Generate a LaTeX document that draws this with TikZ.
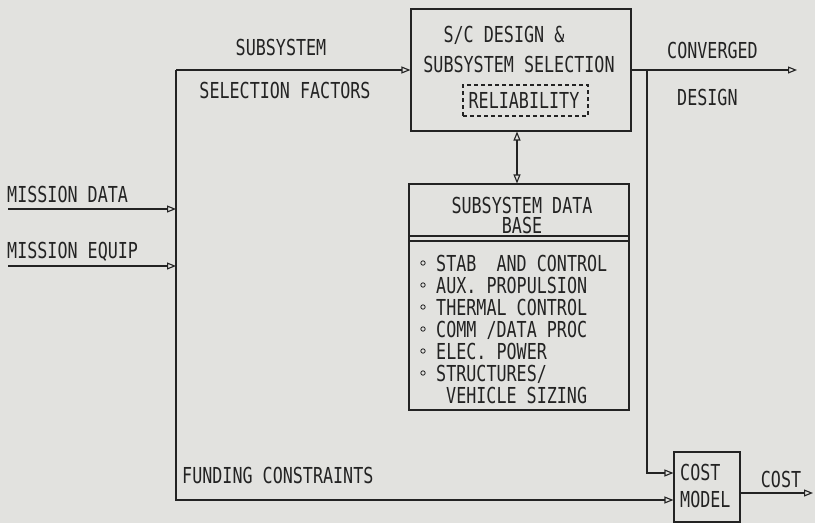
\documentclass[tikz,border=0pt]{standalone}
\usepackage{fontspec}
\newfontfamily\plotfont{DejaVu Sans Mono}[FakeStretch=0.76]
\usetikzlibrary{arrows.meta}
\definecolor{paper}{RGB}{226,226,223}
\definecolor{ink}{RGB}{35,35,35}
\begin{document}
\begin{tikzpicture}[x=1pt,y=-1pt,
  every node/.style={font=\plotfont\fontsize{22}{26}\selectfont, text=ink, inner sep=0pt},
  box/.style={draw=ink, line width=1.1pt},
  dbox/.style={draw=ink, line width=1.1pt, dash pattern=on 4pt off 3pt},
  conn/.style={draw=ink, line width=1.1pt, -{Triangle[open,length=9pt,width=7pt]}},
  dconn/.style={draw=ink, line width=1.1pt, {Triangle[open,length=9pt,width=7pt]}-{Triangle[open,length=9pt,width=7pt]}},
  lbl/.style={anchor=base},
  lblw/.style={anchor=base west},
  bul/.style={draw=ink, line width=0.8pt}]
\fill[paper] (0,0) rectangle (815,523);
\useasboundingbox (0,0) rectangle (815,523);

% boxes
\node[box, minimum width=220pt, minimum height=122pt] (sc) at (521,70) {};
\node[lbl] (sct1) at (504,42) {S/C DESIGN \&};
\node[lbl] (sct2) at (519,72) {SUBSYSTEM SELECTION};
\node[dbox, minimum width=125pt, minimum height=31pt] (rel) at (525.5,100.5) {};
\node[lbl] (relt) at (524,108) {RELIABILITY};

\node[box, minimum width=220pt, minimum height=226pt] (db) at (519,297) {};
\node[lbl] (dbt1) at (522,213) {SUBSYSTEM DATA};
\node[lbl] (dbt2) at (522,233) {BASE};
\coordinate (l1) at (0,236);
\coordinate (l2) at (0,241);
\draw[box] (db.west |- l1) -- (db.east |- l1);
\draw[box] (db.west |- l2) -- (db.east |- l2);

\node[lblw] (i1) at (436,271) {STAB\ \ AND CONTROL};
\node[lblw] (i2) at (436,293) {AUX.\ PROPULSION};
\node[lblw] (i3) at (436,315) {THERMAL CONTROL};
\node[lblw] (i4) at (436,337) {COMM /DATA PROC};
\node[lblw] (i5) at (436,359) {ELEC.\ POWER};
\node[lblw] (i6) at (436,381) {STRUCTURES/};
\node[lblw] (i7) at (446,403) {VEHICLE SIZING};
\foreach \yy in {263,285,307,329,351,373}
  \draw[bul] (423,\yy) circle (2.2pt);

\node[box, minimum width=66pt, minimum height=70pt] (cost) at (707,487) {};
\node[lblw] (ct1) at (680,480) {COST};
\node[lblw] (ct2) at (680,507) {MODEL};

% labels
\node[lbl] (sub1) at (281,55) {SUBSYSTEM};
\node[lbl] (sub2) at (285,98) {SELECTION FACTORS};
\node[lblw] (mdt) at (7,202) {MISSION DATA};
\node[lblw] (met) at (7,258) {MISSION EQUIP};
\node[lblw] (fct) at (182,483) {FUNDING CONSTRAINTS};
\node[lblw] (cvt1) at (667,58) {CONVERGED};
\node[lblw] (cvt2) at (677,105) {DESIGN};
\node[lbl] (cot) at (781,487) {COST};

% connectors
\coordinate (jt) at (176,70);
\coordinate (md) at (8,209);
\coordinate (me) at (8,266);
\draw[conn] (md) -- (md -| jt);
\draw[conn] (me) -- (me -| jt);
\draw[conn] (jt) -- (sc.west);
\draw[conn] (jt) |- ([yshift=-13pt]cost.west);
\coordinate (ax) at (517,0);
\draw[dconn] (sc.south -| ax) -- (db.north -| ax);
\coordinate (cd) at (797,70);
\draw[conn] (sc.east) -- (cd);
\coordinate (br) at (647,70);
\draw[conn] (br) |- ([yshift=14pt]cost.west);
\coordinate (co) at (813,493);
\draw[conn] (cost.east |- co) -- (co);
\end{tikzpicture}
\end{document}
